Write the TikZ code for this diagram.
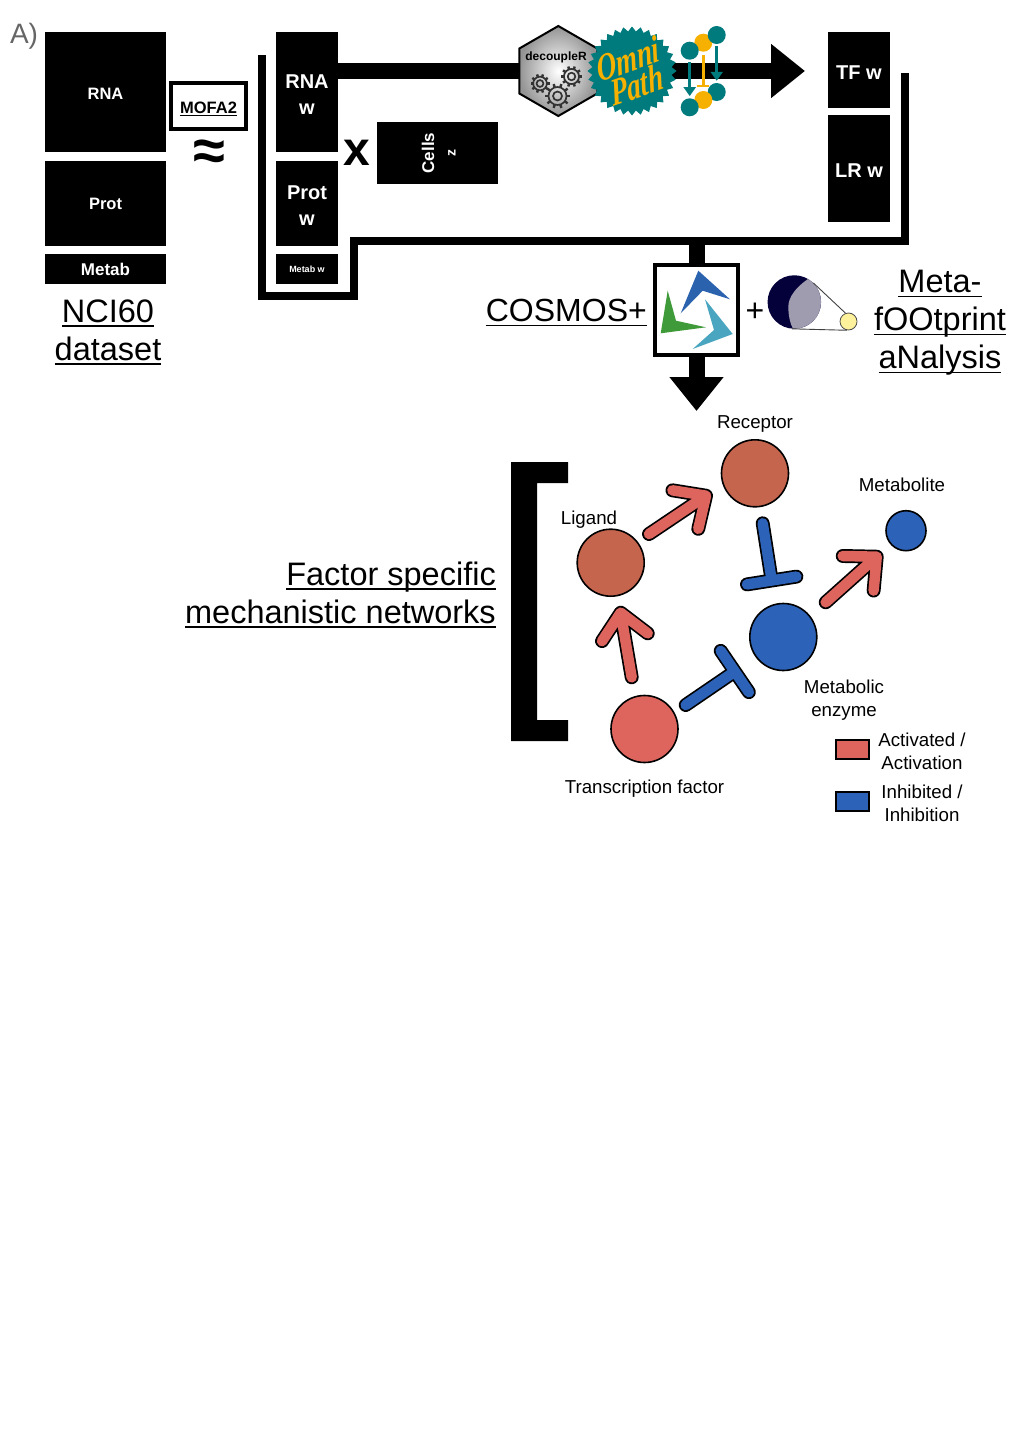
\documentclass[tikz,border=0pt]{standalone}
\usepackage{fontspec}
\setmainfont{Liberation Sans}
\newfontfamily\omnifont{Liberation Serif}
\usepackage{xcolor}
\usetikzlibrary{arrows.meta,calc,shapes.geometric}
\definecolor{actred}{HTML}{DD655E}
\definecolor{actbrown}{HTML}{C6654E}
\definecolor{inhblue}{HTML}{2C63B8}
\definecolor{omniteal}{HTML}{007B7D}
\definecolor{omniyellow}{HTML}{F5B000}
\definecolor{moondark}{HTML}{04003A}
\definecolor{moongrey}{HTML}{A09CB0}
\definecolor{sunyellow}{HTML}{FDF29B}
\definecolor{logoblue}{HTML}{2A62AE}
\definecolor{logogreen}{HTML}{3F9A3A}
\definecolor{logoteal}{HTML}{4AA6C0}
\newcommand{\ulined}[1]{\leavevmode\setbox0\hbox{#1}\copy0\kern-\wd0\vrule width\wd0 height -.09em depth .14em\relax}
\tikzstyle{blockbox} = [fill=black, text=white, inner sep=0pt, outer sep=0pt, align=center]
\tikzstyle{bigtitle} = [inner sep=0pt, align=center, font=\fontsize{32.5}{38}\selectfont]
\tikzstyle{netlabel} = [inner sep=0pt, align=center, font=\fontsize{18.7}{23}\selectfont]
\tikzstyle{netnode} = [circle, draw=black, line width=1.6pt, inner sep=0pt, minimum size=67pt]
\tikzstyle{legendbox} = [draw=black, line width=2pt, inner sep=0pt, minimum width=33pt, minimum height=19pt]
\tikzstyle{barline} = [black, line width=8pt]
\tikzstyle{widebar} = [black, line width=16pt]
\tikzstyle{omniword} = [text=omniyellow, inner sep=0pt, xscale=.88, yscale=1.25, rotate=14, transform shape, font=\omnifont\itshape\bfseries\fontsize{31}{31}\selectfont]
\tikzstyle{actline} = [draw=black, double=actred, line width=1.7pt, double distance=10.5pt, line cap=round, line join=round]
\tikzstyle{inhline} = [draw=black, double=inhblue, line width=1.7pt, double distance=10.5pt, line cap=round, line join=round]
\newcommand{\actlink}[2]{\draw[actline] (#1) -- (#2) ($(#2)!34pt!43:(#1)$) -- (#2) -- ($(#2)!34pt!-43:(#1)$);}
\newcommand{\inhlink}[2]{\draw[inhline] (#1) -- (#2) ($(#2)!25pt!90:(#1)$) -- ($(#2)!25pt!-90:(#1)$);}
\newcommand{\gearicon}[3]{%
\draw[black!80, line width=1.7pt] (#1,#2) circle (#3*.72) (#1,#2) circle (#3*.36);
\foreach \a in {0,36,...,324} \draw[black!80, line width=2.4pt] ([shift={(\a:#3*.7)}]#1,#2) -- ([shift={(\a:#3)}]#1,#2);}
\begin{document}
\begin{tikzpicture}[x=1pt, y=-1pt]
\useasboundingbox (0,0) rectangle (1024,1440);

\node[text=black!60, inner sep=0pt, font=\fontsize{28}{28}\selectfont] (panel) at (24,36) {A)};

\node[blockbox, minimum width=121pt, minimum height=120pt, font=\bfseries\fontsize{16.5}{20}\selectfont] (rna) at (105.5,92) {\rule{0pt}{14pt}RNA};
\node[blockbox, minimum width=121pt, minimum height=85pt, font=\bfseries\fontsize{16.5}{20}\selectfont] (prot) at (105.5,203) {\rule{0pt}{14pt}Prot};
\node[blockbox, minimum width=121pt, minimum height=30pt, font=\bfseries\fontsize{17}{20}\selectfont] (metab) at (105.5,269) {Metab};
\node[bigtitle] (nci) at (108,332) {\ulined{NCI60}\\\ulined{dataset}};

\node[draw=black, line width=4pt, fill=white, inner sep=0pt, minimum width=74.5pt, minimum height=46pt, font=\bfseries\fontsize{16.5}{20}\selectfont] (mofa) at (208.5,106) {\rule{0pt}{17pt}\ulined{MOFA2}};
\node[inner sep=0pt, font=\bfseries\fontsize{58}{58}\selectfont] (approx) at (209,155) {≈};

\coordinate (framestart) at (262,55);
\coordinate (framecorner) at (354,296);
\coordinate (frameright) at (905,241);
\coordinate (frameend) at (905,73);
\draw[barline] (framestart) |- (framecorner) |- (frameright) -- (frameend);

\node[blockbox, minimum width=62pt, minimum height=120pt, font=\bfseries\fontsize{20}{26}\selectfont] (rnaw) at (307,92) {\rule{0pt}{18pt}RNA\\w};
\node[blockbox, minimum width=62pt, minimum height=85pt, font=\bfseries\fontsize{20}{26}\selectfont] (protw) at (307,203) {\rule{0pt}{18pt}Prot\\w};
\node[blockbox, minimum width=62pt, minimum height=30pt, font=\bfseries\fontsize{9}{11}\selectfont] (metabw) at (307,269) {Metab w};
\node[inner sep=0pt, font=\bfseries\fontsize{48}{48}\selectfont] (times) at (357,153) {x};
\node[blockbox, minimum width=121pt, minimum height=62pt] (factors) at (437.5,153) {};
\node[text=white, inner sep=0pt, rotate=90, font=\bfseries\fontsize{17}{20}\selectfont] (cells) at (428,153) {Cells};
\node[text=white, inner sep=0pt, rotate=90, font=\bfseries\fontsize{14}{16}\selectfont] (zlabel) at (452,153) {z};

\node[blockbox, minimum width=62pt, minimum height=76pt, font=\bfseries\fontsize{20}{24}\selectfont] (tfw) at (859,70) {\rule{0pt}{18pt}TF w};
\node[blockbox, minimum width=62pt, minimum height=107pt, font=\bfseries\fontsize{20}{24}\selectfont] (lrw) at (859,168.5) {\rule{0pt}{17pt}LR w};

\coordinate (bartip) at (805,71);
\draw[widebar, -{Triangle[length=34pt, width=52pt]}] (rnaw.east |- bartip) -- (bartip);

\node[regular polygon, regular polygon sides=6, shape border rotate=30, draw=black, line width=2pt, inner sep=0pt, minimum size=90pt, shading=radial, inner color=white, outer color=black!42] (decoupler) at (558.3,71) {};
\node[inner sep=0pt, font=\bfseries\fontsize{12}{14}\selectfont] (decouplername) at (556,57) {decoupleR};
\gearicon{540}{83.5}{9.5}
\gearicon{557.5}{96}{12.5}
\gearicon{571.5}{76.5}{10.5}
\node[star, star points=32, star point ratio=1.12, fill=omniteal, inner sep=0pt, minimum size=89pt] (omni) at (632,71) {};
\node[omniword] (omnitext) at (628,59) {Omni};
\node[omniword] (pathtext) at (637,85) {Path};

\foreach \nm/\px/\py/\col in {ot/703.3/42.7/omniyellow, tl/689.7/50.7/omniteal, tr/716.7/35/omniteal, br/716.7/92/omniteal, ob/703.3/100/omniyellow, bl/689.7/107.3/omniteal}
  \node[circle, fill=\col, inner sep=0pt, minimum size=18pt] (\nm) at (\px,\py) {};
\draw[omniteal, line width=3.2pt, -{Triangle[length=9pt, width=12pt]}] ([yshift=-2pt]tl.south) -- ([yshift=2pt]bl.north);
\draw[omniteal, line width=3.2pt, -{Triangle[length=9pt, width=12pt]}] ([yshift=-2pt]tr.south) -- ([yshift=2pt]br.north);
\draw[omniyellow, line width=3pt, -{Bar[width=12pt, line width=2pt]}] ([yshift=-3pt]ot.south) -- ([yshift=4pt]ob.north);

\node[draw=black, line width=4pt, fill=white, inner sep=0pt, minimum width=83pt, minimum height=90pt] (cosmos) at (696.5,310) {};
\draw[widebar] (cosmos.north |- frameright) -- (cosmos.north);
\coordinate (cosmostip) at (696.5,411);
\draw[widebar, -{Triangle[length=34pt, width=52pt]}] (cosmos.south) -- (cosmostip);
\fill[logoblue] (698.3,270.7) -- (730,299.3) -- (702.7,290.7) -- (680.7,313.3) -- cycle;
\fill[logogreen] (667.7,290.7) -- (676,320.7) -- (706,327.3) -- (660.7,333.3) -- cycle;
\fill[logoteal] (705,299.3) -- (732.7,334) -- (692.7,349) -- (714,330) -- cycle;
\node[inner sep=0pt, anchor=east, font=\fontsize{32}{38}\selectfont] (cosmostext) at (647,313) {\ulined{COSMOS+}};
\node[inner sep=0pt, font=\fontsize{32}{32}\selectfont] (plus) at (755,312) {+};

\node[circle, fill=sunyellow, draw=black!70, line width=.8pt, inner sep=0pt, minimum size=17pt] (sun) at (848.5,321.5) {};
\node[circle, fill=moondark, inner sep=0pt, minimum size=53.5pt] (moon) at (794.3,302) {};
\begin{scope}
\clip (794.3,302) circle (26.7);
\fill[moongrey] (808,279) .. controls (796.7,286.7) and (788.3,296.7) .. (788.3,306.7) .. controls (788.3,315) and (790,323.3) .. (793.3,329.5) -- (840,329.5) -- (840,279) -- cycle;
\end{scope}
\draw[black!75, line width=.9pt] (moon.45) -- (sun.110) (moon.-95) -- (sun.-100);
\node[bigtitle] (meta) at (940,323) {\ulined{Meta-}\\\ulined{fOOtprint}\\\ulined{aNalysis}};

\node[bigtitle, align=right, anchor=east] (factortext) at (496,595) {\ulined{Factor specific}\\\ulined{mechanistic networks}};
\fill[black] (511,462) -- (568,462) -- (568,483) -- (537,483) -- (537,720) -- (568,720) -- (568,741) -- (511,741) -- cycle;

\node[netnode, fill=actbrown] (receptor) at (755,473.3) {};
\node[netnode, fill=actbrown] (ligand) at (610.7,562.7) {};
\node[netnode, fill=actred] (tfactor) at (644.5,729) {};
\node[netnode, fill=inhblue] (enzyme) at (783.3,637) {};
\node[netnode, fill=inhblue, minimum size=40pt] (metabolite) at (906,530.7) {};

\coordinate (ligtail) at (649,534);
\coordinate (rectip) at (706,495.7);
\coordinate (tftail) at (631.7,677.3);
\coordinate (ligtip) at (620.7,612.7);
\coordinate (enztail) at (825.7,602.3);
\coordinate (mettip) at (876.7,556.7);
\coordinate (rectail) at (762.7,523.3);
\coordinate (enztop) at (771.7,580.5);
\coordinate (tfright) at (685.7,705);
\coordinate (enzleft) at (734.8,671.5);
\actlink{ligtail}{rectip}
\actlink{tftail}{ligtip}
\actlink{enztail}{mettip}
\inhlink{rectail}{enztop}
\inhlink{tfright}{enzleft}

\node[netlabel] (receptorlabel) at (755,424) {Receptor};
\node[netlabel] (ligandlabel) at (589,520) {Ligand};
\node[netlabel] (metabolitelabel) at (902,485) {Metabolite};
\node[netlabel] (enzymelabel) at (844,700.5) {Metabolic\\enzyme};
\node[netlabel] (tflabel) at (644.5,789) {Transcription factor};

\node[legendbox, fill=actred] (legendact) at (852,749) {};
\node[legendbox, fill=inhblue] (legendinh) at (852,801) {};
\node[netlabel] (acttext) at (922,751) {Activated /\\Activation};
\node[netlabel] (inhtext) at (922,803) {Inhibited /\\Inhibition};
\end{tikzpicture}
\end{document}
